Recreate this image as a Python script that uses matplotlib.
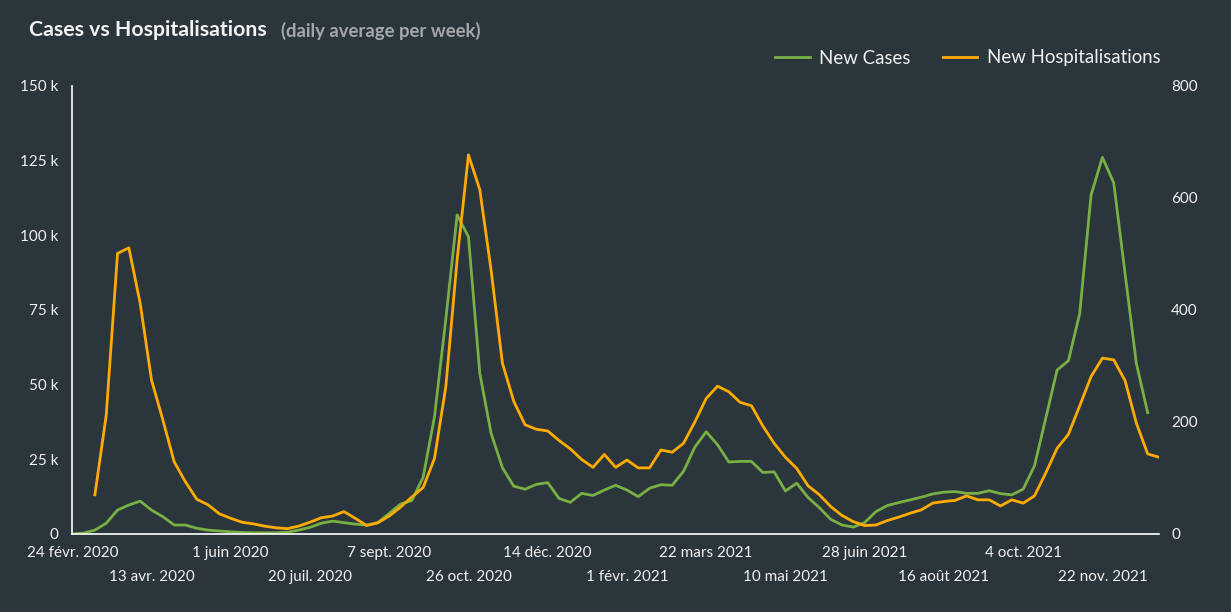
import numpy as np
import pandas as pd
import matplotlib
matplotlib.use("Agg")
import matplotlib.pyplot as plt

# ---- data (weekly, daily average per week) ----
START = "2020-02-24"
N_WEEKS = 97

# new cases, thousands (weeks 0..95)
cases_k = [
    0, 0.3, 1.3, 3.6, 8, 9.7, 11, 8, 5.8, 3,
    3, 1.9, 1.3, 1.0, 0.7, 0.5, 0.4, 0.4, 0.4, 0.6,
    1.3, 2.2, 3.6, 4.3, 3.8, 3.3, 3.0, 3.8, 6.9, 10,
    11.2, 19, 39.3, 72, 106.8, 99.5, 53.8, 33.7, 22.2, 16,
    15, 16.6, 17.2, 11.9, 10.6, 13.6, 12.9, 14.7, 16.3, 14.7,
    12.5, 15.3, 16.5, 16.3, 21, 29.1, 34.2, 29.9, 24.1, 24.3,
    24.3, 20.6, 20.8, 14.4, 17, 12.2, 8.8, 4.9, 3, 2.3,
    3.8, 7.5, 9.5, 10.5, 11.4, 12.3, 13.4, 14, 14.2, 13.6,
    13.6, 14.5, 13.5, 13.1, 15, 22.8, 38.8, 54.9, 58, 73.9,
    113.5, 126.1, 117.6, 87.3, 57.1, 40.6,
]

# new hospitalisations (weeks 2..96)
hosp = [
    70, 212, 501, 511, 412, 275, 204, 129,
    93, 62, 52, 36, 28, 21, 18, 14, 11, 9.5,
    14, 21, 29, 32, 40, 28, 15, 20, 32, 48,
    66, 83, 135, 263, 490, 677, 615, 471, 305, 237,
    195, 187, 184, 167, 152, 133, 119, 142, 119, 132,
    118, 118, 150, 146, 162, 200, 242, 264, 254, 235,
    229, 193, 162, 137, 117, 86, 70, 49, 33, 22,
    15, 16, 24, 30, 37, 43, 55, 58, 60, 68,
    61, 61, 50, 61, 55, 68, 109, 153, 178, 229,
    281, 314, 311, 274, 198, 143, 137,
]

tick_labels = [
    "24 févr. 2020", "13 avr. 2020", "1 juin 2020", "20 juil. 2020",
    "7 sept. 2020", "26 oct. 2020", "14 déc. 2020", "1 févr. 2021",
    "22 mars 2021", "10 mai 2021", "28 juin 2021", "16 août 2021",
    "4 oct. 2021", "22 nov. 2021",
]
left_ticks = [0, 25, 50, 75, 100, 125, 150]
left_labels = ["0", "25 k", "50 k", "75 k", "100 k", "125 k", "150 k"]
right_ticks = [0, 200, 400, 600, 800]

# ---- style ----
BG = "#2b353c"
GREEN = "#78b043"
ORANGE = "#ffab00"
TXT = "#f2f2f2"
SUB = "#a3a8ab"
FONT = ["Lato", "DejaVu Sans"]

plt.rcParams["font.family"] = FONT

dates = pd.date_range(START, periods=N_WEEKS, freq="7D")
cases = np.full(N_WEEKS, np.nan)
cases[:len(cases_k)] = cases_k
hosp_arr = np.full(N_WEEKS, np.nan)
hosp_arr[2:2 + len(hosp)] = hosp

fig = plt.figure(figsize=(12.31, 6.12), dpi=100, facecolor=BG)
ax = fig.add_axes([0.0587, 0.1275, 0.8828, 0.732], facecolor=BG)
ax2 = ax.twinx()

ax.plot(dates, cases, color=GREEN, lw=2.0, label="New Cases")
ax2.plot(dates, hosp_arr, color=ORANGE, lw=2.0, label="New Hospitalisations")

ax.set_xlim(dates[0], dates[-1])
ax.set_ylim(0, 150)
ax2.set_ylim(0, 800)

ax.set_yticks(left_ticks)
ax.set_yticklabels(left_labels)
ax2.set_yticks(right_ticks)

# two staggered rows of date labels, every 7 weeks
tick_dates = dates[::7][:len(tick_labels)]
ax.set_xticks(tick_dates[::2])
ax.set_xticklabels(tick_labels[::2])
ax.set_xticks(tick_dates[1::2], minor=True)
ax.set_xticklabels(tick_labels[1::2], minor=True)

ax.tick_params(axis="x", which="major", length=0, pad=9, labelsize=11, colors=TXT)
ax.tick_params(axis="x", which="minor", length=0, pad=26, labelsize=11, colors=TXT)
ax.tick_params(axis="y", length=0, pad=9.7, labelsize=11, colors=TXT)
ax2.tick_params(axis="y", length=0, pad=8.7, labelsize=11, colors=TXT)

for a in (ax, ax2):
    for s in ("top", "right", "left", "bottom"):
        a.spines[s].set_visible(False)
for s in ("left", "bottom"):
    ax.spines[s].set_visible(True)
    ax.spines[s].set_color("white")
    ax.spines[s].set_linewidth(1.2)

fig.text(29 / 1231, 1 - 30 / 612, "Cases vs Hospitalisations", color=TXT,
         fontsize=15.3, fontweight="bold", va="center", ha="left")
fig.text(281 / 1231, 1 - 31 / 612, "(daily average per week)", color=SUB,
         fontsize=13.3, fontweight="bold", va="center", ha="left")

h1, l1 = ax.get_legend_handles_labels()
h2, l2 = ax2.get_legend_handles_labels()
leg = fig.legend(h1 + h2, l1 + l2, loc="center right", ncol=2,
                 bbox_to_anchor=(1177 / 1231, 1 - 58 / 612), frameon=False,
                 fontsize=13.4, handlelength=1.85, handletextpad=0.5,
                 columnspacing=1.75)
for t in leg.get_texts():
    t.set_color(TXT)

fig.savefig("out.png", dpi=100, facecolor=BG)
